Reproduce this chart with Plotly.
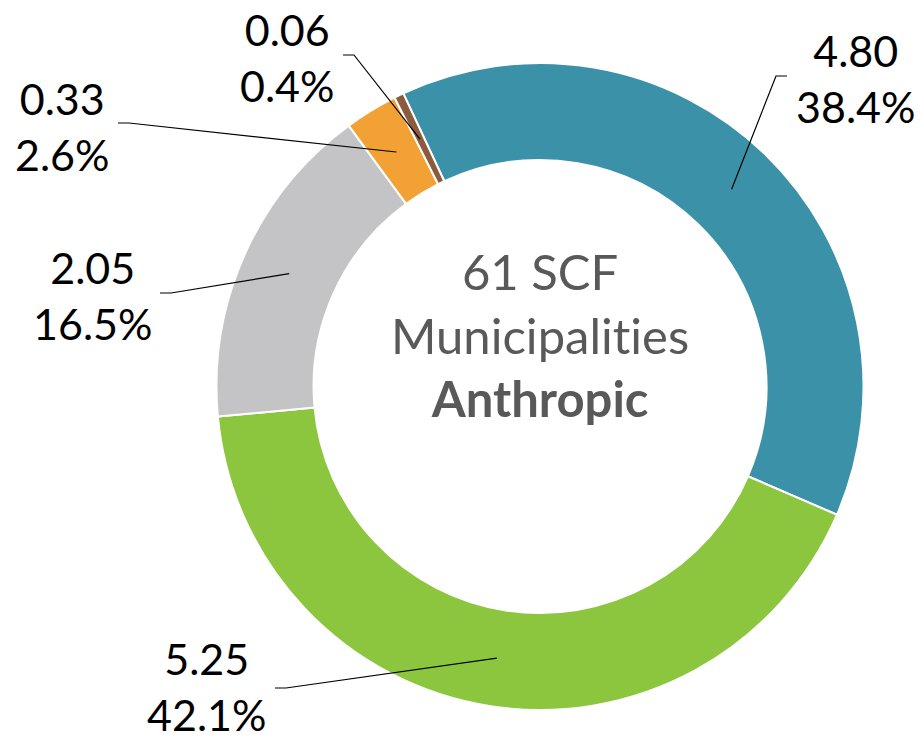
import math
import plotly.graph_objects as go

# ---- data ----
categories = ["Cat A", "Cat B", "Cat C", "Cat D", "Cat E"]
values = [4.80, 5.25, 2.05, 0.33, 0.06]
percent_labels = [38.4, 42.1, 16.5, 2.6, 0.4]
colors = ["#3A91A8", "#8CC63F", "#C4C3C6", "#F2A234", "#8C5A3C"]
center_lines = ["61 SCF", "Municipalit\u200cies", "<b>Anthropic</b>"]

# ---- layout parameters (pixels) ----
W, H = 922, 744
CX, CY = 540.0, 386.5       # donut centre
R_OUT = 323.5
HOLE = 0.70
ROTATION = -25.0
# label centres and leader-line end points (px), in slice order
label_pos = [(855, 78), (206, 686), (92, 295), (62, 126), (287, 57)]
leader_end = [(787, 76), (275, 688), (160, 293), (118, 123), (343, 55)]
elbow_dir = [-1, 1, 1, 1, 1]
label_font = dict(family="Lato, Carlito, Liberation Sans, sans-serif", size=43, color="#000000")
center_font = dict(family="Lato, Carlito, Liberation Sans, sans-serif", size=49, color="#595959")

total = sum(values)

fig = go.Figure()
fig.add_trace(go.Pie(
    labels=categories, values=values, sort=False, direction="clockwise",
    rotation=ROTATION, hole=HOLE, textinfo="none", hoverinfo="label+value+percent",
    marker=dict(colors=colors, line=dict(color="#FFFFFF", width=2)),
    domain=dict(x=[(CX - R_OUT) / W, (CX + R_OUT) / W],
                y=[(H - CY - R_OUT) / H, (H - CY + R_OUT) / H]),
    showlegend=False,
))

# leader lines and labels computed from the data
r_mid = R_OUT * (1 + HOLE) / 2
cum = 0.0
shapes = []
annotations = []
for i, v in enumerate(values):
    mid = ROTATION + (cum + v / 2) / total * 360.0
    cum += v
    th = math.radians(mid)
    tx, ty = CX + r_mid * math.sin(th), CY - r_mid * math.cos(th)
    ex, ey = leader_end[i]
    bx = ex + elbow_dir[i] * 11
    shapes.append(dict(type="path", xref="x", yref="y",
                       path=f"M {tx:.1f},{ty:.1f} L {bx:.1f},{ey:.1f} L {ex:.1f},{ey:.1f}",
                       line=dict(color="#000000", width=1.2)))
    lx, ly = label_pos[i]
    annotations.append(dict(x=lx, y=ly, xref="x", yref="y", showarrow=False,
                            text=f"{v:.2f}<br>{percent_labels[i]:.1f}%",
                            font=label_font, align="center",
                            xanchor="center", yanchor="middle"))

annotations.append(dict(x=CX, y=334, xref="x", yref="y", showarrow=False,
                        text="<br>".join(center_lines), font=center_font,
                        align="center", xanchor="center", yanchor="middle"))

fig.update_layout(
    width=W, height=H, margin=dict(l=0, r=0, t=0, b=0),
    paper_bgcolor="#FFFFFF", plot_bgcolor="rgba(0,0,0,0)",
    xaxis=dict(range=[0, W], visible=False, fixedrange=True),
    yaxis=dict(range=[H, 0], visible=False, fixedrange=True),
    shapes=shapes, annotations=annotations,
)

fig.write_html("out.html", config={"displayModeBar": False},
               post_script="document.body.style.margin='0';document.body.style.overflow='hidden';")
